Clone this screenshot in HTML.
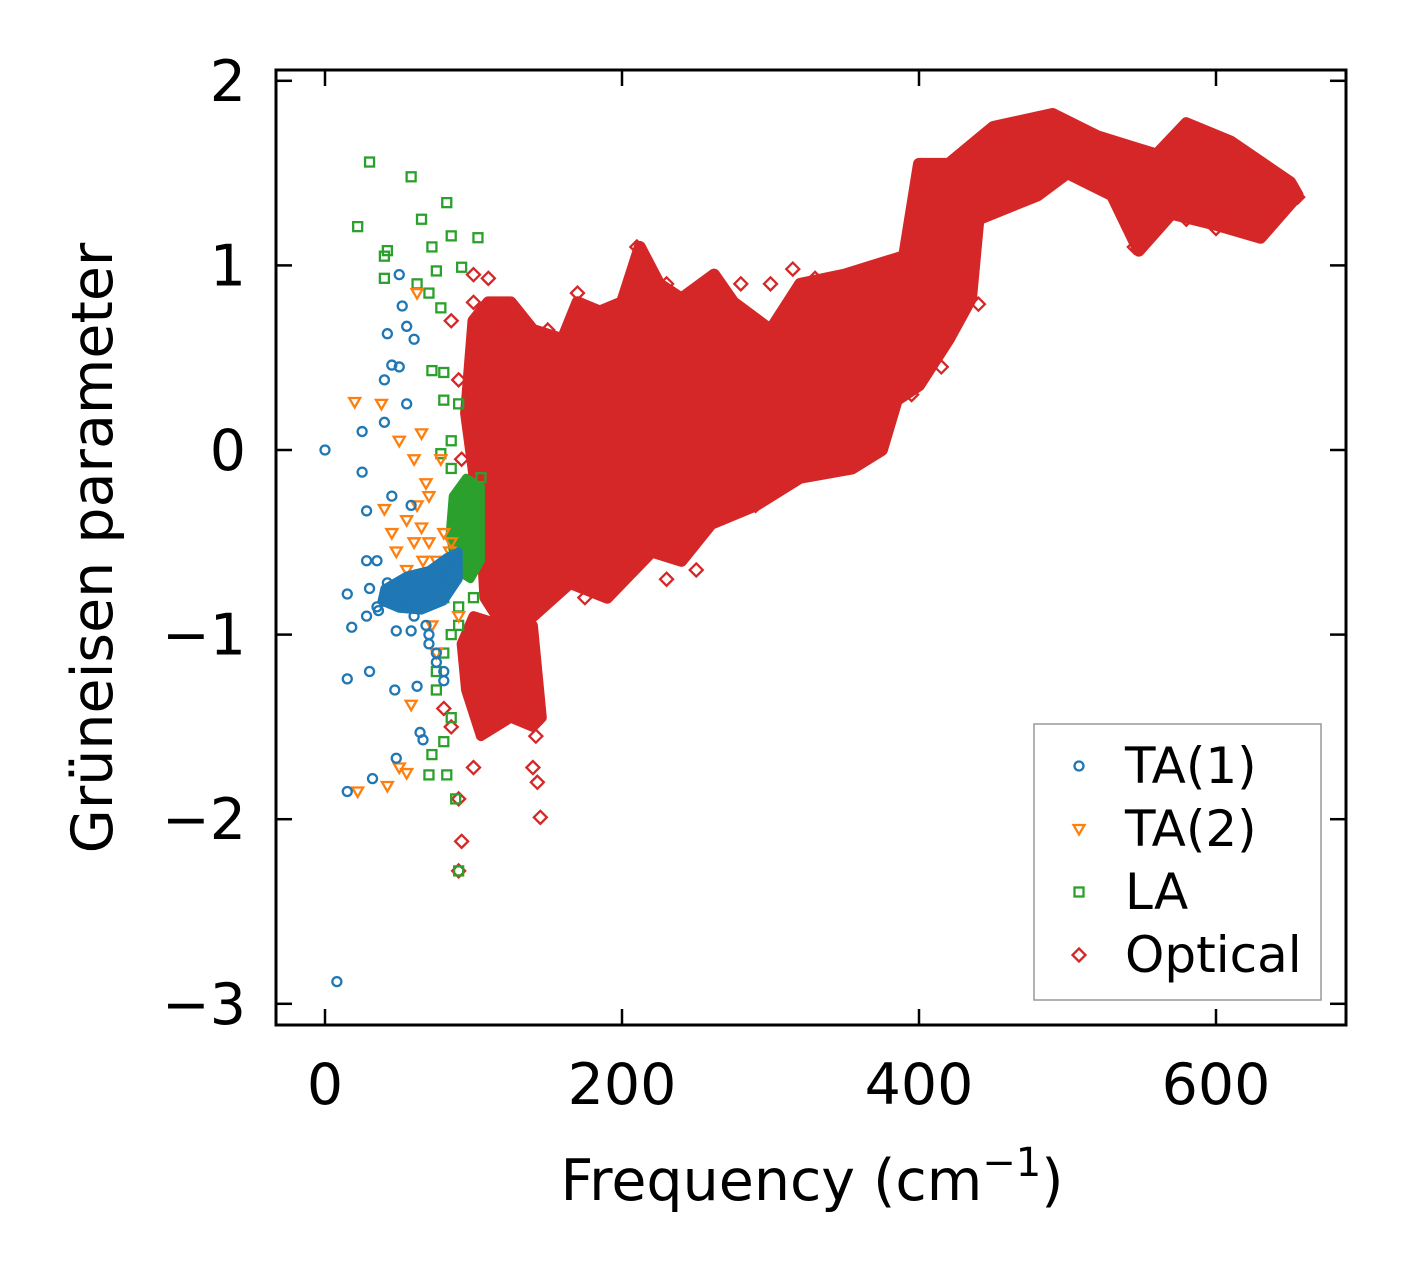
<!DOCTYPE html>
<html><head><meta charset="utf-8"><style>
html,body{margin:0;padding:0;background:#fff;}
svg{display:block;font-family:"DejaVu Sans","Liberation Sans",sans-serif;}
</style></head><body>
<svg id="chart" width="1406" height="1274" viewBox="0 0 1406 1274" xmlns="http://www.w3.org/2000/svg">
<rect width="1406" height="1274" fill="#fff"/>
<g id="marks"></g>
<g id="axes"></g>
<text transform="translate(112,548) rotate(-90)" text-anchor="middle" font-size="57">Grüneisen parameter</text>
<text x="812" y="1200" text-anchor="middle" font-size="57">Frequency (cm<tspan dy="-24" font-size="40">−1</tspan><tspan dy="24">)</tspan></text>
<g id="legend"></g>
</svg>
<script>
const xTicks=[0,200,400,600];
const yTicks=[2,1,0,-1,-2,-3];
const yTickLabels=["2","1","0","−1","−2","−3"];
const ta1X=[0,8,15,15,15,18,25,25,28,28,30,32,35,35,40,40,42,45,45,47,48,50,50,52,55,55,58,60,62,64,66,70,75,80,45,50,55,60,65,70,75,80,85,88,55,60,65,72,78,82,86,68,58,48,40,42,36,30,28,75,80,70];
const ta1Y=[0,-2.88,-1.85,-1.24,-0.78,-0.96,0.1,-0.12,-0.33,-0.6,-1.2,-1.78,-0.6,-0.85,0.38,0.15,0.63,0.46,-0.25,-1.3,-1.67,0.95,0.45,0.78,0.67,0.25,-0.3,0.6,-1.28,-1.53,-1.57,-1.05,-1.1,-1.25,-0.78,-0.8,-0.75,-0.82,-0.72,-0.78,-0.7,-0.68,-0.65,-0.6,-0.85,-0.9,-0.8,-0.75,-0.7,-0.66,-0.62,-0.95,-0.98,-0.98,-0.82,-0.72,-0.87,-0.75,-0.9,-1.15,-1.2,-1.0];
const ta2X=[20,22,38,40,42,50,50,55,55,58,60,62,65,65,68,70,72,75,78,80,45,48,55,60,66,72,78,84,88,62,70,80,85,90,75];
const ta2Y=[0.26,-1.85,0.25,-0.32,-1.82,0.05,-1.72,-0.38,-1.75,-1.38,-0.05,0.85,0.09,-0.42,-0.18,-0.5,-0.95,-0.6,-0.05,-0.7,-0.45,-0.55,-0.65,-0.5,-0.6,-0.68,-0.72,-0.55,-0.62,-0.3,-0.25,-0.45,-0.5,-0.9,-1.1];
const laX=[30,22,40,42,40,58,65,72,75,82,85,92,103,62,70,78,80,72,80,85,90,78,85,90,92,95,100,105,88,95,100,80,75,72,70,82,88,90,80,85,90,100,98,92,96,94,98,90,75,80,85,90];
const laY=[1.56,1.21,1.05,1.08,0.93,1.48,1.25,1.1,0.97,1.34,1.16,0.99,1.15,0.9,0.85,0.77,0.42,0.43,0.27,0.05,0.25,-0.02,-0.1,-0.3,-0.5,-0.6,-0.4,-0.15,-0.45,-0.3,-0.2,-0.8,-1.2,-1.65,-1.76,-1.76,-1.89,-2.28,-1.58,-1.45,-0.95,-0.8,-0.6,-0.4,-0.5,-0.35,-0.45,-0.55,-1.3,-1.1,-1.0,-0.85];
const optX=[90,100,110,85,120,130,140,142,140,143,145,90,92,90,100,85,95,110,115,125,105,118,135,80,230,280,300,315,330,385,435,440,395,385,415,175,230,250,290,320,350,640,655,600,580,545,210,217,95,92,100,120,150,170,200];
const optY=[0.38,0.95,0.93,0.7,-1.3,-1.2,-1.4,-1.55,-1.72,-1.8,-1.99,-1.89,-2.12,-2.28,-1.72,-1.5,-1.1,-1.5,-1.2,-1.35,-1.4,-1.0,-1.1,-1.4,0.9,0.9,0.9,0.98,0.93,1.02,0.82,0.79,0.3,0.27,0.45,-0.8,-0.7,-0.65,-0.3,-0.1,-0.05,1.28,1.37,1.2,1.25,1.1,1.1,0.9,-0.5,-0.05,0.8,0.7,0.65,0.85,0.78];
const cloudUpperX=[95,100,110,125,140,160,170,185,200,212,225,240,262,275,300,320,350,370,390,400,420,450,490,520,560,580,610,650];
const cloudUpperY=[0.2,0.7,0.8,0.8,0.65,0.6,0.8,0.75,0.8,1.1,0.9,0.82,0.95,0.8,0.65,0.9,0.95,1.0,1.05,1.55,1.55,1.75,1.82,1.7,1.6,1.77,1.67,1.45];
const cloudLowerX=[655,630,600,570,548,530,500,480,440,435,420,400,385,375,355,320,290,260,240,220,190,165,140,120,108,106,100];
const cloudLowerY=[1.38,1.15,1.22,1.28,1.08,1.38,1.5,1.38,1.25,0.82,0.6,0.35,0.27,0.0,-0.1,-0.15,-0.3,-0.4,-0.6,-0.55,-0.8,-0.72,-0.9,-0.95,-0.8,-0.5,-0.1];
const lowClusterX=[100,120,140,146,140,125,105,95,92];
const lowClusterY=[-0.9,-0.95,-0.95,-1.45,-1.5,-1.45,-1.55,-1.3,-1.05];
const laDenseX=[86,95,105,105,98,88,84];
const laDenseY=[-0.25,-0.15,-0.2,-0.6,-0.7,-0.65,-0.45];
const taDenseX=[40,55,70,82,90,90,80,65,50,38];
const taDenseY=[-0.75,-0.68,-0.65,-0.58,-0.55,-0.7,-0.82,-0.87,-0.86,-0.82];

const NS="http://www.w3.org/2000/svg";
const L=276,R=1346,T=70,B=1025;
const sx=v=>325+v*1.485;
const sy=v=>450-v*184.6;
const C={b:"#1f77b4",o:"#ff7f0e",g:"#2ca02c",r:"#d62728"};
function mk(tag,parent){const e=document.createElementNS(NS,tag);parent.appendChild(e);return e;}
const marks=document.getElementById('marks');
const axes=document.getElementById('axes');
const legend=document.getElementById('legend');

function marker(kind,x,y,parent){
  let e;
  if(kind==='circle'){e=mk('circle',parent);e.setAttribute('cx',x);e.setAttribute('cy',y);e.setAttribute('r',4.5);e.setAttribute('stroke',C.b);}
  else if(kind==='tri'){e=mk('polygon',parent);e.setAttribute('points',`${x-5.5},${y-4} ${x+5.5},${y-4} ${x},${y+5.5}`);e.setAttribute('stroke',C.o);}
  else if(kind==='sq'){e=mk('rect',parent);e.setAttribute('x',x-4.5);e.setAttribute('y',y-4.5);e.setAttribute('width',9);e.setAttribute('height',9);e.setAttribute('stroke',C.g);}
  else {e=mk('polygon',parent);e.setAttribute('points',`${x},${y-6.5} ${x+6.5},${y} ${x},${y+6.5} ${x-6.5},${y}`);e.setAttribute('stroke',C.r);}
  e.setAttribute('fill','none');e.setAttribute('stroke-width',2.3);
  return e;
}
function area(xs,ys,color,sw){
  const p=xs.map((v,i)=>sx(v)+','+sy(ys[i])).join(' ');
  const e=mk('polygon',marks);
  e.setAttribute('points',p);e.setAttribute('fill',color);e.setAttribute('stroke',color);
  e.setAttribute('stroke-width',sw);e.setAttribute('stroke-linejoin','round');
  return e;
}

const cloud=area(cloudUpperX.concat(cloudLowerX),cloudUpperY.concat(cloudLowerY),C.r,12);


const low=area(lowClusterX,lowClusterY,C.r,10);



optX.forEach((v,i)=>{const e=marker('dia',sx(v),sy(optY[i]),marks);

});
const laD=area(laDenseX,laDenseY,C.g,8);


laX.forEach((v,i)=>{const e=marker('sq',sx(v),sy(laY[i]),marks);

});
ta2X.forEach((v,i)=>{const e=marker('tri',sx(v),sy(ta2Y[i]),marks);

});
const taD=area(taDenseX,taDenseY,C.b,8);


ta1X.forEach((v,i)=>{const e=marker('circle',sx(v),sy(ta1Y[i]),marks);

});

const fr=mk('rect',axes);


fr.setAttribute('x',L);fr.setAttribute('y',T);fr.setAttribute('width',R-L);fr.setAttribute('height',B-T);
fr.setAttribute('fill','none');fr.setAttribute('stroke','#000');fr.setAttribute('stroke-width',3);
function line(x1,y1,x2,y2){const l=mk('line',axes);l.setAttribute('x1',x1);l.setAttribute('y1',y1);l.setAttribute('x2',x2);l.setAttribute('y2',y2);l.setAttribute('stroke','#000');l.setAttribute('stroke-width',2.5);return l;}
xTicks.forEach(v=>{const x=sx(v);
const t1=line(x,B,x,B-16);
const t2=line(x,T,x,T+16);
const t=mk('text',axes);
t.setAttribute('x',x);t.setAttribute('y',1104);t.setAttribute('text-anchor','middle');t.setAttribute('font-size',57);t.textContent=String(v);});
yTicks.forEach((v,i)=>{const y=sy(v);
const t1=line(L,y,L+16,y);
const t2=line(R,y,R-16,y);
const t=mk('text',axes);
t.setAttribute('x',246);t.setAttribute('y',y+20);t.setAttribute('text-anchor','end');t.setAttribute('font-size',57);t.textContent=yTickLabels[i];});

const lb=mk('rect',legend);


lb.setAttribute('x',1034);lb.setAttribute('y',724);lb.setAttribute('width',287);lb.setAttribute('height',276);
lb.setAttribute('fill','#fff');lb.setAttribute('stroke','#999');lb.setAttribute('stroke-width',1.5);
const legNames=["TA(1)","TA(2)","LA","Optical"];
const legKinds=['circle','tri','sq','dia'];
legNames.forEach((n,i)=>{const y=766+i*63;
const m=marker(legKinds[i],1079,y,legend);


const t=mk('text',legend);


t.setAttribute('x',1125);t.setAttribute('y',y+17);t.setAttribute('font-size',50);t.textContent=n;});
</script>
</body></html>
